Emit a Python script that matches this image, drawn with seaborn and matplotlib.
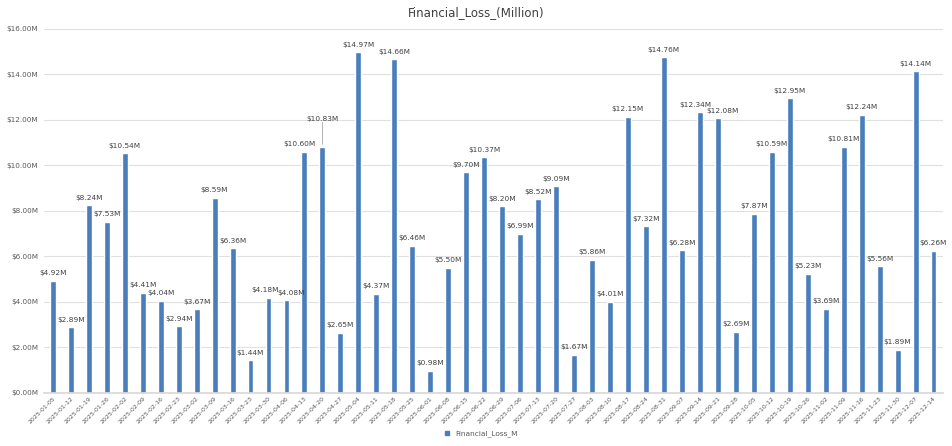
import matplotlib
matplotlib.use("Agg")
import matplotlib.pyplot as plt
import seaborn as sns
import pandas as pd
from matplotlib.patches import Patch

weeks = pd.date_range("2025-01-05", periods=50, freq="7D").strftime("%Y-%m-%d").tolist()
losses = [4.92, 2.89, 8.24, 7.53, 10.54, 4.41, 4.04, 2.94, 3.67, 8.59,
          6.36, 1.44, 4.18, 4.08, 10.60, 10.83, 2.65, 14.97, 4.37, 14.66,
          6.46, 0.98, 5.50, 9.70, 10.37, 8.20, 6.99, 8.52, 9.09, 1.67,
          5.86, 4.01, 12.15, 7.32, 14.76, 6.28, 12.34, 12.08, 2.69, 7.87,
          10.59, 12.95, 5.23, 3.69, 10.81, 12.24, 5.56, 1.89, 14.14, 6.26]
yticks = [0, 2, 4, 6, 8, 10, 12, 14, 16]

df = pd.DataFrame({"Week": weeks, "Financial_Loss_M": losses})

sns.set_theme(style="white")
plt.rcParams['font.family'] = ['DejaVu Sans']

fig = plt.figure(figsize=(9.53, 4.46), dpi=100)
ax = fig.add_axes([0.046, 0.119, 0.943, 0.816])
bar_color = "#4A7EBB"
sns.barplot(data=df, x="Week", y="Financial_Loss_M", color=bar_color,
            width=0.33, ax=ax, saturation=1)

ax.set_ylim(0, 16)
ax.set_yticks(yticks)
ax.set_yticklabels([f"${v:.2f}M" for v in yticks], fontsize=5.2, color="#595959")
ax.yaxis.grid(True, color="#E0E0E0", linewidth=0.8)
ax.set_axisbelow(True)
ax.tick_params(axis="x", labelsize=4.5, labelcolor="#595959", length=0, pad=2)
ax.tick_params(axis="y", length=0, pad=4)
for lab in ax.get_xticklabels():
    lab.set_rotation(45)
    lab.set_ha("right")
    lab.set_rotation_mode("anchor")
ax.set_xlim(-0.5, len(weeks) - 0.5)
ax.set_xlabel("")
ax.set_ylabel("")
for s in ["top", "right", "left"]:
    ax.spines[s].set_visible(False)
ax.spines["bottom"].set_color("#D9D9D9")

# label nudges (x in categories, y in data units) to mimic reference placement
nudge = {12: (-0.2, 0.0), 13: (0.25, 0.0), 14: (-0.3, 0.0), 15: (0.0, 0.9),
         36: (-0.25, 0.0), 37: (0.25, 0.0)}
for i, v in enumerate(losses):
    dx, dy = nudge.get(i, (0.0, 0.0))
    ax.text(i + dx, v + 0.2 + dy, f"${v:.2f}M", ha="center", va="bottom",
            fontsize=5.3, color="#404040")
    if dy > 0:
        ax.plot([i, i], [v + 0.1, v + 0.2 + dy], color="#A6A6A6", linewidth=0.6)

fig.text(0.5, 0.972, "Financial_Loss_(Million)", ha="center", va="center",
         fontsize=8.5, color="#404040")

fig.legend(handles=[Patch(color=bar_color, label="Financial_Loss_M")],
           loc="center", bbox_to_anchor=(0.505, 0.027), frameon=False,
           fontsize=5.3, handlelength=0.6, handleheight=0.6, labelcolor="#595959")

fig.savefig("out.png", dpi=100, facecolor="white")
